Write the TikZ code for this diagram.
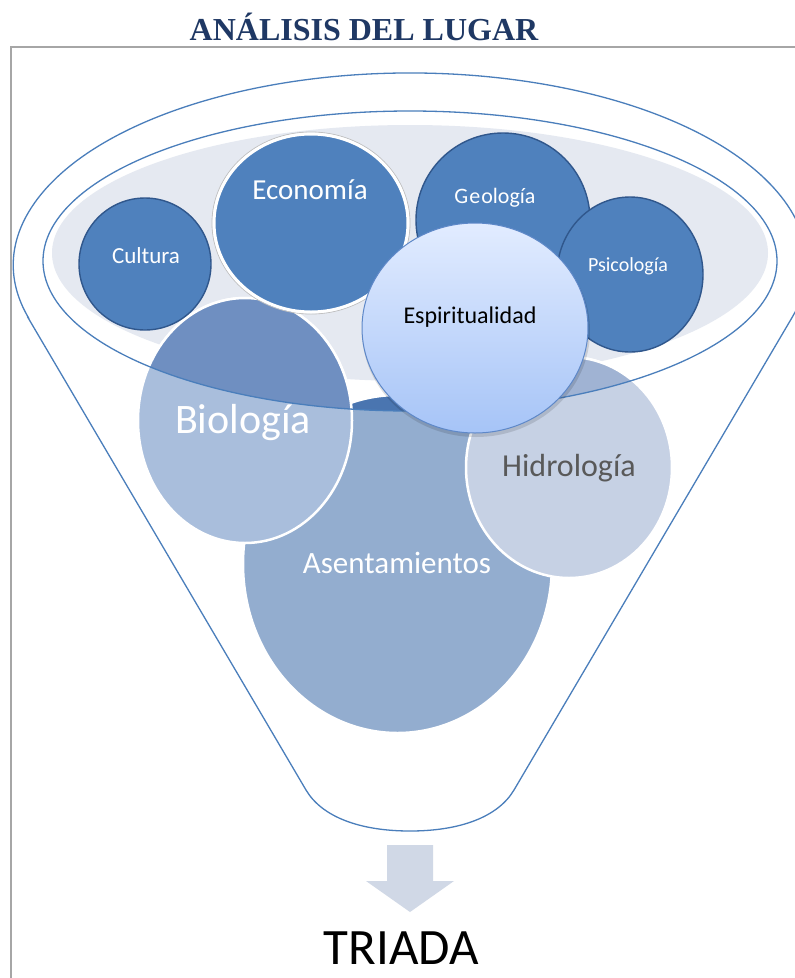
\documentclass[tikz,border=0pt]{standalone}
\usepackage{fontspec}
\setmainfont{Carlito}
\newfontfamily\titlefont{Liberation Serif}
\definecolor{titlenavy}{HTML}{1F3864}
\definecolor{framegray}{HTML}{A6A6A6}
\definecolor{funnelblue}{HTML}{4A7EBB}
\definecolor{rimgray}{HTML}{E5E9F1}
\definecolor{ballblue}{HTML}{4F81BD}
\definecolor{balledge}{HTML}{30578C}
\definecolor{biolight}{HTML}{A9BEDC}
\definecolor{biodark}{HTML}{6F8FC1}
\definecolor{hidrolight}{HTML}{C6D1E4}
\definecolor{hidrodark}{HTML}{A0B3D3}
\definecolor{asentlight}{HTML}{93ADCF}
\definecolor{asentdark}{HTML}{4A75B0}
\definecolor{espitop}{HTML}{E2ECFF}
\definecolor{espibot}{HTML}{A6C4F7}
\definecolor{espiedge}{HTML}{5E88C8}
\definecolor{arrowgray}{HTML}{D0D8E6}
\definecolor{hidrotext}{HTML}{595959}
\newcommand{\ptsize}[1]{\fontsize{#1pt}{#1pt}\selectfont}
\begin{document}
\begin{tikzpicture}[x=1pt,y=-1pt,
  funnelline/.style={draw=funnelblue,line width=1.3pt},
  topball/.style={fill=ballblue,draw=balledge,line width=1.4pt},
  lowball/.style={draw=white,line width=2.5pt},
  balltext/.style={anchor=base,text=white,inner sep=0pt}]
\useasboundingbox (0,0) rectangle (795,978);
\fill[white] (0,0) rectangle (795,978);
\node[anchor=base,inner sep=0pt,text=titlenavy,font={\titlefont\bfseries\ptsize{32}}] (title) at (364,40) {ANÁLISIS DEL LUGAR};
\draw[framegray,line width=1.8pt] (11,978) -- (11,47) -- (795,47);
% funnel
\draw[funnelline] (28,317.6) -- (306,790) .. controls (322,817) and (360,831) .. (410,831)
  .. controls (460,831) and (498,817) .. (514,790) -- (792,317.6)
  arc[start angle=-15.9,end angle=195.9,x radius=397pt,y radius=192pt] -- cycle;
\fill[rimgray] (410,253) ellipse[x radius=358,y radius=128];
% lower balls
\filldraw[lowball,fill=asentlight] (397.5,564) ellipse[x radius=154.5,y radius=169];
\filldraw[lowball,fill=biolight] (245,420.5) ellipse[x radius=107,y radius=122.5];
\filldraw[lowball,fill=hidrolight] (569,467.5) ellipse[x radius=103,y radius=110.5];
\begin{scope}
  \clip (410,261) ellipse[x radius=367,y radius=150];
  \filldraw[lowball,fill=asentdark] (397.5,564) ellipse[x radius=154.5,y radius=169];
  \filldraw[lowball,fill=biodark] (245,420.5) ellipse[x radius=107,y radius=122.5];
  \filldraw[lowball,fill=hidrodark] (569,467.5) ellipse[x radius=103,y radius=110.5];
\end{scope}
\draw[funnelline] (410,261) ellipse[x radius=367,y radius=150];
% top balls
\filldraw[topball] (145,264) circle[radius=66];
\filldraw[topball] (503,220) ellipse[x radius=87,y radius=87];
\filldraw[topball] (630,274.5) ellipse[x radius=73,y radius=77.5];
\draw[gray!50,line width=0.8pt] (311,223) ellipse[x radius=99,y radius=91];
\filldraw[topball,draw=white,line width=3pt] (311,223) ellipse[x radius=97,y radius=89];
\fill[black,opacity=0.12] (476,331) ellipse[x radius=114,y radius=106];
\shadedraw[top color=espitop,bottom color=espibot,draw=espiedge,line width=1pt] (475,328) ellipse[x radius=113,y radius=105];
% labels
\node[balltext,font=\ptsize{23}] (cultura) at (146,263) {Cultura};
\node[balltext,font=\ptsize{29}] (economia) at (310,199) {Economía};
\node[balltext,font=\ptsize{22}] (geologia) at (495,203) {G\kern1pt e\kern1pt ología};
\node[balltext,font=\ptsize{20}] (psicologia) at (628,271) {Psicología};
\node[balltext,text=black,font=\ptsize{24}] (espiritualidad) at (470,323) {Espiritualidad};
\node[balltext,font=\ptsize{42}] (biologia) at (243,433) {Biología};
\node[balltext,text=hidrotext,font=\ptsize{32}] (hidrologia) at (569,476) {Hidrología};
\node[balltext,font=\ptsize{31}] (asentamientos) at (397,573) {Asentamientos};
% arrow and result
\fill[arrowgray] (387,845) -- (433,845) -- (433,881) -- (454,881) -- (410,912) -- (366,881) -- (387,881) -- cycle;
\node[anchor=base,inner sep=0pt,font=\ptsize{51}] (triada) at (401.5,964) {TRIADA};
\end{tikzpicture}
\end{document}
